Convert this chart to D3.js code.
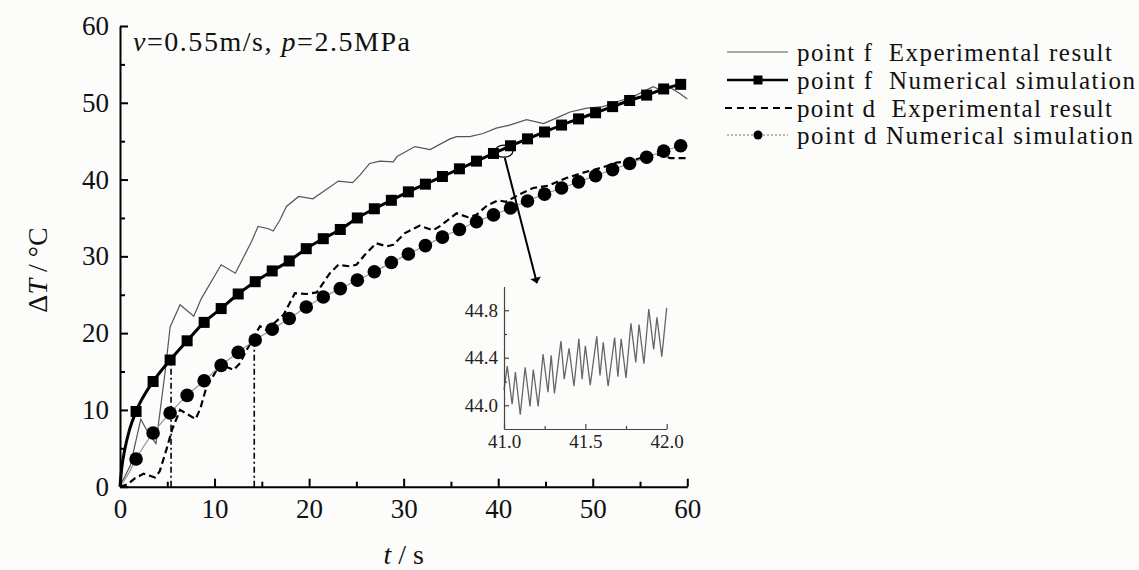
<!DOCTYPE html>
<html><head><meta charset="utf-8">
<script src="https://cdn.jsdelivr.net/npm/d3@7/dist/d3.min.js"></script>
<style>
body{margin:0;background:#fcfcfa}
svg{display:block;font-family:'Liberation Serif','Times New Roman',serif}
</style>
</head><body>
<svg id="c" width="1139" height="570"></svg>
<script>
// ---------- data ----------
const xTicks = [0, 10, 20, 30, 40, 50, 60];
const yTicks = [0, 10, 20, 30, 40, 50, 60];
const xMinor = [5, 15, 25, 35, 45, 55];
const yMinor = [5, 15, 25, 35, 45, 55];

// point f - numerical simulation (markers)
const fSimT = [1.7,3.5,5.3,7.1,8.9,10.7,12.5,14.3,16.1,17.9,19.7,21.5,23.3,25.1,26.9,28.7,30.5,32.3,34.1,35.9,37.7,39.5,41.3,43.1,44.9,46.7,48.5,50.3,52.1,53.9,55.7,57.5,59.3];
const fSimV = [9.8,13.7,16.5,19.0,21.4,23.2,25.1,26.7,28.1,29.4,31.0,32.3,33.5,35.0,36.2,37.3,38.4,39.4,40.4,41.4,42.4,43.4,44.4,45.3,46.2,47.1,47.9,48.7,49.5,50.3,51.0,51.8,52.4];
const fSimStartT = [0, 0.2, 0.5, 1.0];
const fSimStartV = [0, 2.6, 4.8, 7.4];

// point d - numerical simulation (markers)
const dSimT = [1.7,3.5,5.3,7.1,8.9,10.7,12.5,14.3,16.1,17.9,19.7,21.5,23.3,25.1,26.9,28.7,30.5,32.3,34.1,35.9,37.7,39.5,41.3,43.1,44.9,46.7,48.5,50.3,52.1,53.9,55.7,57.5,59.3];
const dSimV = [3.6,7.0,9.6,11.9,13.8,15.8,17.5,19.1,20.5,21.9,23.4,24.7,25.8,26.9,28.0,29.2,30.3,31.4,32.5,33.5,34.5,35.4,36.3,37.2,38.1,38.9,39.7,40.5,41.3,42.1,42.9,43.7,44.4];
const dSimStartT = [0, 0.9];
const dSimStartV = [0, 1.7];

// point f - experimental result
const fExpT = [0,0.5,1.1,2.2,2.9,3.8,4.8,5.3,6.35,7.8,8.6,10.7,12.2,13.9,14.6,15.7,16.2,16.9,17.6,18.9,20.4,21.7,23.1,24.6,25.4,26.4,27.5,28.9,29.3,31.2,32.8,34.9,35.6,37.0,38.4,39.8,41.2,43.0,44.8,46.5,47.6,49.4,51.1,52.5,54.3,55.7,56.4,57.1,58.3,59.2,60.0];
const fExpV = [0.2,1.3,2.8,8.8,7.2,5.6,15.2,20.8,23.7,22.2,24.5,28.9,27.8,31.9,33.9,33.6,33.3,34.7,36.5,37.8,37.5,38.6,39.8,39.6,40.6,42.1,42.4,42.3,43.0,44.3,43.9,45.3,45.6,45.6,46.0,46.7,47.1,47.8,47.3,48.2,48.8,49.3,49.5,50.1,50.8,51.7,52.1,51.7,51.9,51.2,50.5];

// point d - experimental result
const dExpT = [0,0.8,1.6,2.5,3.7,4.2,4.9,5.5,6.35,7.05,8.0,8.5,9.2,9.9,10.6,11.3,12.0,12.7,13.4,14.0,14.8,15.5,17.3,18.5,19.7,20.8,22.2,23.1,24.3,25.0,25.9,27.1,28.2,28.9,30.1,31.7,33.1,33.8,35.6,36.8,37.7,38.8,40.0,40.8,42.3,43.7,45.3,47.2,49.0,50.8,52.5,54.3,56.1,57.1,58.2,59.9];
const dExpV = [0,0.3,1.1,1.7,1.2,2.0,4.8,7.4,10.0,9.5,8.8,10.2,13.2,14.5,16.1,15.6,15.2,16.1,17.8,19.1,20.9,20.4,22.4,25.2,25.1,25.3,27.8,28.9,28.7,28.9,30.2,31.7,31.3,31.5,33.0,34.0,33.4,33.9,35.6,35.1,35.4,36.6,37.3,37.1,38.1,38.9,39.2,40.2,40.9,41.5,42.2,42.5,43.2,43.2,42.8,42.8];

// vertical guide lines
const guideT = [5.4, 14.2];
const guideV = [16.6, 19.1];

// inset (zoom of point f experimental, 41-42 s)
const insetT = [41.0,41.02,41.05,41.07,41.10,41.13,41.16,41.18,41.21,41.24,41.27,41.29,41.31,41.35,41.37,41.40,41.43,41.46,41.48,41.50,41.53,41.57,41.59,41.61,41.64,41.68,41.70,41.72,41.75,41.78,41.81,41.83,41.86,41.89,41.92,41.94,41.97,42.0];
const insetV = [44.13,44.33,44.01,44.28,43.92,44.32,43.99,44.30,43.99,44.43,44.11,44.42,44.10,44.54,44.22,44.48,44.16,44.56,44.22,44.50,44.17,44.58,44.25,44.53,44.16,44.57,44.24,44.56,44.23,44.69,44.36,44.68,44.35,44.81,44.47,44.74,44.41,44.82];
const insetXTicks = [41.0, 41.5, 42.0];
const insetXMinor = [41.25, 41.75];
const insetYTicks = [44.0, 44.4, 44.8];
const insetYMinor = [44.2, 44.6];

// zoom marker & arrow (data coords)
const zoomCenter = [40.6, 43.7];
const arrowFrom = [40.7, 42.8];
const arrowTo = [44.1, 26.5];

const legendLabels = ["point f  Experimental result", "point f  Numerical simulation", "point d  Experimental result", "point d Numerical simulation"];

// ---------- drawing ----------
const svg = d3.select("#c");
svg.append("rect").attr("width",1139).attr("height",570).attr("fill","#fcfcfa");

const x = d3.scaleLinear().domain([0,60]).range([120,687.3]);
const y = d3.scaleLinear().domain([0,60]).range([486.7,26]);

const zip = (a,b) => a.map((v,i)=>[v,b[i]]);
const line = d3.line().x(d=>x(d[0])).y(d=>y(d[1]));
const smooth = d3.line().x(d=>x(d[0])).y(d=>y(d[1])).curve(d3.curveMonotoneX);

// guide lines
const g = svg.append("g");
guideT.forEach((t,i)=>{
  g.append("line").attr("x1",x(t)).attr("x2",x(t)).attr("y1",y(0)).attr("y2",y(guideV[i]))
   .attr("stroke","#000").attr("stroke-width",1.6).attr("stroke-dasharray","6,3,2,3");
});

// point f experimental
g.append("path").attr("d", line(zip(fExpT,fExpV))).attr("fill","none")
  .attr("stroke","#555").attr("stroke-width",1.2);
// point d experimental
g.append("path").attr("d", line(zip(dExpT,dExpV))).attr("fill","none")
  .attr("stroke","#000").attr("stroke-width",2.2).attr("stroke-dasharray","7,4");
// point d simulation line
g.append("path").attr("d", smooth(zip(dSimStartT.concat(dSimT), dSimStartV.concat(dSimV)))).attr("fill","none")
  .attr("stroke","#999").attr("stroke-width",1.2);
// point f simulation line
g.append("path").attr("d", smooth(zip(fSimStartT.concat(fSimT), fSimStartV.concat(fSimV)))).attr("fill","none")
  .attr("stroke","#000").attr("stroke-width",3);

// markers
g.selectAll(".sq").data(zip(fSimT,fSimV)).enter().append("rect")
  .attr("x",d=>x(d[0])-5.5).attr("y",d=>y(d[1])-5.5).attr("width",11).attr("height",11).attr("fill","#000");
g.selectAll(".ci").data(zip(dSimT,dSimV)).enter().append("circle")
  .attr("cx",d=>x(d[0])).attr("cy",d=>y(d[1])).attr("r",6.8).attr("fill","#000");

// zoom ellipse & arrow
g.append("ellipse").attr("cx",x(zoomCenter[0])).attr("cy",y(zoomCenter[1])).attr("rx",9).attr("ry",6)
  .attr("fill","none").attr("stroke","#000").attr("stroke-width",1.2);
svg.append("defs").append("marker").attr("id","ah").attr("viewBox","0 0 10 20").attr("refX",10).attr("refY",10)
  .attr("markerWidth",20).attr("markerHeight",11).attr("markerUnits","userSpaceOnUse").attr("orient","auto")
  .append("path").attr("d","M0,0 L10,10 L0,20 Z").attr("fill","#000");
(function(){
  const x1=x(arrowFrom[0]), y1=y(arrowFrom[1]), x2=x(arrowTo[0]), y2=y(arrowTo[1]);
  g.append("line").attr("x1",x1).attr("y1",y1).attr("x2",x2).attr("y2",y2)
   .attr("stroke","#000").attr("stroke-width",2).attr("marker-end","url(#ah)");
})();

// axes
const fontTick = 27;
const ax = svg.append("g").attr("transform",`translate(0,${y(0)})`)
  .call(d3.axisBottom(x).tickValues(xTicks).tickFormat(d3.format("d")).tickSizeInner(-8).tickSizeOuter(0).tickPadding(12));
svg.append("g").attr("transform",`translate(0,${y(0)})`)
  .call(d3.axisBottom(x).tickValues(xMinor).tickFormat("").tickSizeInner(-5).tickSizeOuter(0))
  .select(".domain").remove();
const ay = svg.append("g").attr("transform",`translate(${x(0)},0)`)
  .call(d3.axisLeft(y).tickValues(yTicks).tickFormat(d3.format("d")).tickSizeInner(-8).tickSizeOuter(0).tickPadding(11));
svg.append("g").attr("transform",`translate(${x(0)},0)`)
  .call(d3.axisLeft(y).tickValues(yMinor).tickFormat("").tickSizeInner(-5).tickSizeOuter(0))
  .select(".domain").remove();
svg.selectAll(".domain").attr("stroke","#000").attr("stroke-width",2);
svg.selectAll(".tick line").attr("stroke","#000").attr("stroke-width",2);
[ax,ay].forEach(a=>a.selectAll("text").attr("font-size",fontTick).attr("fill","#111")
  .attr("font-family","'Liberation Serif','Times New Roman',serif"));
ax.selectAll("text").attr("dy","0.72em");

// axis titles
svg.append("text").attr("x",x(30)).attr("y",564).attr("text-anchor","middle").attr("font-size",28).attr("fill","#111")
  .call(t=>{t.append("tspan").attr("font-style","italic").text("t"); t.append("tspan").text(" / s");});
svg.append("text").attr("transform","translate(47,270) rotate(-90)").attr("text-anchor","middle").attr("font-size",28).attr("fill","#111")
  .call(t=>{t.append("tspan").text("\u0394"); t.append("tspan").attr("font-style","italic").text("T"); t.append("tspan").text(" / \u00b0C");});

// annotation
svg.append("text").attr("x",133).attr("y",51).attr("font-size",28).attr("fill","#111")
  .attr("textLength",277).attr("lengthAdjust","spacing")
  .call(t=>{
    t.append("tspan").attr("font-style","italic").text("v");
    t.append("tspan").text("=0.55m/s, ");
    t.append("tspan").attr("font-style","italic").text("p");
    t.append("tspan").text("=2.5MPa");
  });

// legend
const leg = svg.append("g");
const rowY = [61, 89, 117, 144];
const rowW = [315, 338, 315, 336];
legendLabels.forEach((lab,i)=>{
  const ly = rowY[i]-9;
  const ln = leg.append("line").attr("x1",727).attr("x2",788).attr("y1",ly).attr("y2",ly);
  if(i===0) ln.attr("stroke","#555").attr("stroke-width",1.2);
  if(i===1){ ln.attr("stroke","#000").attr("stroke-width",2.5);
    leg.append("rect").attr("x",758-4.5).attr("y",ly-4.5).attr("width",9).attr("height",9).attr("fill","#000"); }
  if(i===2) ln.attr("stroke","#000").attr("stroke-width",1.8).attr("stroke-dasharray","7,5").attr("x1",725).attr("x2",793);
  if(i===3){ ln.attr("stroke","#777").attr("stroke-width",1).attr("stroke-dasharray","2,2");
    leg.append("circle").attr("cx",758).attr("cy",ly).attr("r",4.5).attr("fill","#000"); }
  leg.append("text").attr("x",797).attr("y",rowY[i]).attr("font-size",25).attr("fill","#111")
    .attr("textLength",rowW[i]).attr("lengthAdjust","spacing")
    .attr("xml:space","preserve").style("white-space","pre").text(lab);
});

// inset
const ix = d3.scaleLinear().domain([41,42]).range([504,666.7]);
const iy = d3.scaleLinear().domain([43.8,45.0]).range([429,286.5]);
const ig = svg.append("g");
ig.append("path").attr("d", d3.line().x(d=>ix(d[0])).y(d=>iy(d[1]))(zip(insetT,insetV)))
  .attr("fill","none").attr("stroke","#666").attr("stroke-width",1.3);
const iax = ig.append("g").attr("transform",`translate(0,${iy(43.8)})`)
  .call(d3.axisBottom(ix).tickValues(insetXTicks).tickFormat(d3.format(".1f")).tickSizeInner(-5).tickSizeOuter(0).tickPadding(6));
ig.append("g").attr("transform",`translate(0,${iy(43.8)})`)
  .call(d3.axisBottom(ix).tickValues(insetXMinor).tickFormat("").tickSizeInner(-3).tickSizeOuter(0)).select(".domain").remove();
const iay = ig.append("g").attr("transform",`translate(${ix(41)},0)`)
  .call(d3.axisLeft(iy).tickValues(insetYTicks).tickFormat(d3.format(".1f")).tickSizeInner(-5).tickSizeOuter(0).tickPadding(6));
ig.append("g").attr("transform",`translate(${ix(41)},0)`)
  .call(d3.axisLeft(iy).tickValues(insetYMinor).tickFormat("").tickSizeInner(-3).tickSizeOuter(0)).select(".domain").remove();
ig.selectAll(".domain").attr("stroke","#444").attr("stroke-width",1.2);
ig.selectAll(".tick line").attr("stroke","#444").attr("stroke-width",1.2);
[iax,iay].forEach(a=>a.selectAll("text").attr("font-size",19).attr("fill","#222")
  .attr("font-family","'Liberation Serif','Times New Roman',serif"));
</script>
</body></html>
